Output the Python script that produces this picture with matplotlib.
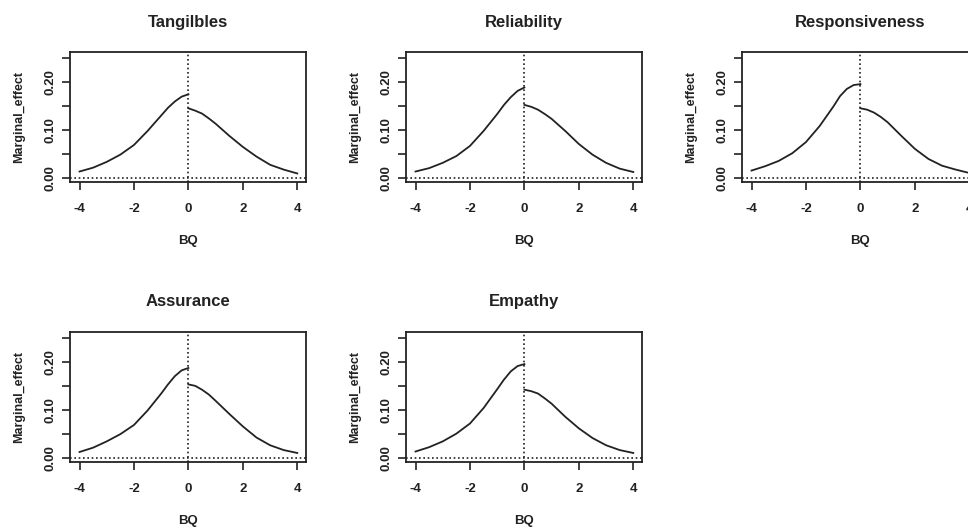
import matplotlib
matplotlib.use("Agg")
import matplotlib.pyplot as plt

plt.rcParams['font.family'] = ['Liberation Sans', 'DejaVu Sans']

# BQ grid below and above the threshold
x_left = [-4, -3.5, -3, -2.5, -2, -1.5, -1, -0.75, -0.5, -0.25, 0]
x_right = [0, 0.25, 0.5, 0.75, 1, 1.5, 2, 2.5, 3, 3.5, 4]

titles = ["Tangilbles", "Reliability", "Responsiveness", "Assurance", "Empathy"]

tang_left = [0.014, 0.022, 0.034, 0.049, 0.069, 0.098, 0.130, 0.146, 0.159, 0.169, 0.174]
tang_right = [0.145, 0.140, 0.134, 0.124, 0.113, 0.088, 0.065, 0.045, 0.028, 0.018, 0.010]
reli_left = [0.014, 0.021, 0.032, 0.046, 0.067, 0.098, 0.133, 0.152, 0.168, 0.181, 0.188]
reli_right = [0.152, 0.148, 0.142, 0.133, 0.123, 0.098, 0.071, 0.049, 0.032, 0.020, 0.013]
resp_left = [0.016, 0.025, 0.036, 0.052, 0.075, 0.108, 0.148, 0.170, 0.185, 0.193, 0.195]
resp_right = [0.145, 0.142, 0.136, 0.127, 0.116, 0.088, 0.061, 0.040, 0.026, 0.018, 0.011]
assu_left = [0.013, 0.022, 0.035, 0.050, 0.069, 0.099, 0.134, 0.153, 0.170, 0.182, 0.187]
assu_right = [0.153, 0.150, 0.142, 0.132, 0.119, 0.092, 0.066, 0.043, 0.027, 0.017, 0.011]
empa_left = [0.014, 0.023, 0.035, 0.051, 0.072, 0.104, 0.143, 0.163, 0.180, 0.191, 0.195]
empa_right = [0.142, 0.139, 0.134, 0.124, 0.113, 0.086, 0.062, 0.042, 0.027, 0.017, 0.011]

lefts = [tang_left, reli_left, resp_left, assu_left, empa_left]
rights = [tang_right, reli_right, resp_right, assu_right, empa_right]

xticks = [-4, -2, 0, 2, 4]
yticks = [0, 0.05, 0.10, 0.15, 0.20, 0.25]
ytick_labels = ["0.00", "", "0.10", "", "0.20", ""]

W, H = 968, 530
fig = plt.figure(figsize=(W / 100, H / 100), dpi=100)

# panel boxes in pixels: (left, top)
boxes = [(70, 52), (406, 52), (742, 52), (70, 332), (406, 332)]
bw, bh = 236, 130
col = "#222222"

for i in range(5):
    l, t = boxes[i]
    ax = fig.add_axes([l / W, (H - t - bh) / H, bw / W, bh / H])
    ax.plot(x_left, lefts[i], color=col, lw=1.3)
    ax.plot(x_right, rights[i], color=col, lw=1.3)
    ax.axvline(0, color=col, lw=1.2, ls=(0, (1, 1.6)))
    ax.axhline(0, color=col, lw=1.2, ls=(0, (1, 1.6)))
    ax.set_xlim(-4.35, 4.32)
    ax.set_ylim(-0.0077, 0.2615)
    ax.set_xticks(xticks)
    ax.set_xticklabels([str(v) for v in xticks],
                       fontsize=9.5, fontweight="bold", color=col)
    ax.set_yticks(yticks)
    ax.set_yticklabels(ytick_labels, fontsize=9.5, fontweight="bold",
                       color=col, rotation=90, va="center")
    ax.tick_params(direction="out", length=6, width=1.2, color=col)
    ax.tick_params(axis="x", pad=9)
    ax.tick_params(axis="y", pad=4)
    for s in ax.spines.values():
        s.set_linewidth(1.3)
        s.set_color(col)
    ax.set_title(titles[i], fontsize=12, fontweight="bold", color=col,
                 y=1 + 30 / bh, va="center", pad=0)
    ax.set_xlabel("BQ", fontsize=9.5, fontweight="bold", color=col)
    ax.xaxis.set_label_coords(0.5, -59 / bh)
    ax.xaxis.label.set_va("center")
    ax.set_ylabel("Marginal_effect", fontsize=9, fontweight="bold", color=col)
    ax.yaxis.set_label_coords(-51 / bw, 0.5)
    ax.yaxis.label.set_va("center")

fig.savefig("out.png", dpi=100)
